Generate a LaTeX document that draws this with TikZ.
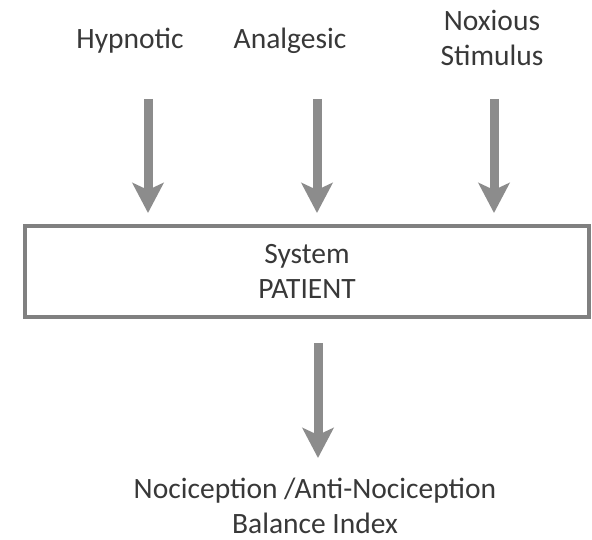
\documentclass[tikz,border=0pt]{standalone}
\usepackage{fontspec}
\setmainfont{Carlito}
\usepackage{xcolor}
\usetikzlibrary{arrows.meta}

\definecolor{labelgray}{RGB}{56,56,56}
\definecolor{arrowgray}{RGB}{140,140,140}
\definecolor{framegray}{RGB}{128,128,128}

\begin{document}
\begin{tikzpicture}[
    x=1pt,
    y=-1pt,
    label/.style={
        text=labelgray,
        font=\fontsize{29.5}{35}\selectfont,
        align=center,
        inner sep=0pt
    },
    flow/.style={
        arrowgray,
        line width=9pt,
        -{Stealth[length=30pt,width=31pt,inset=7pt]}
    }
]

\useasboundingbox (0,0) rectangle (592,540);

% inputs
\node[label] (hyp) at (130,40.5) {Hypnotic};
\node[label] (ana) at (290,40.5) {Analgesic};
\node[label] (nox) at (492,38) {Noxious\\Stimulus};

% system block
\node[label, draw=framegray, line width=4pt, minimum width=564pt,
      minimum height=91pt, inner sep=0pt] (pat) at (307,271.5)
    {System\\PATIENT};

% output
\node[label] (bal) at (315,506) {Nociception /Anti-Nociception\\Balance Index};

% arrow ends
\coordinate (hyps) at (148,99);
\coordinate (hype) at (148,213);
\coordinate (anas) at (317,99);
\coordinate (anae) at (317,213);
\coordinate (noxs) at (494,99);
\coordinate (noxe) at (494,213);
\coordinate (pats) at (318,343);
\coordinate (bale) at (318,458);

\draw[flow] (hyps) -- (hype);
\draw[flow] (anas) -- (anae);
\draw[flow] (noxs) -- (noxe);
\draw[flow] (pats) -- (bale);

\end{tikzpicture}
\end{document}
